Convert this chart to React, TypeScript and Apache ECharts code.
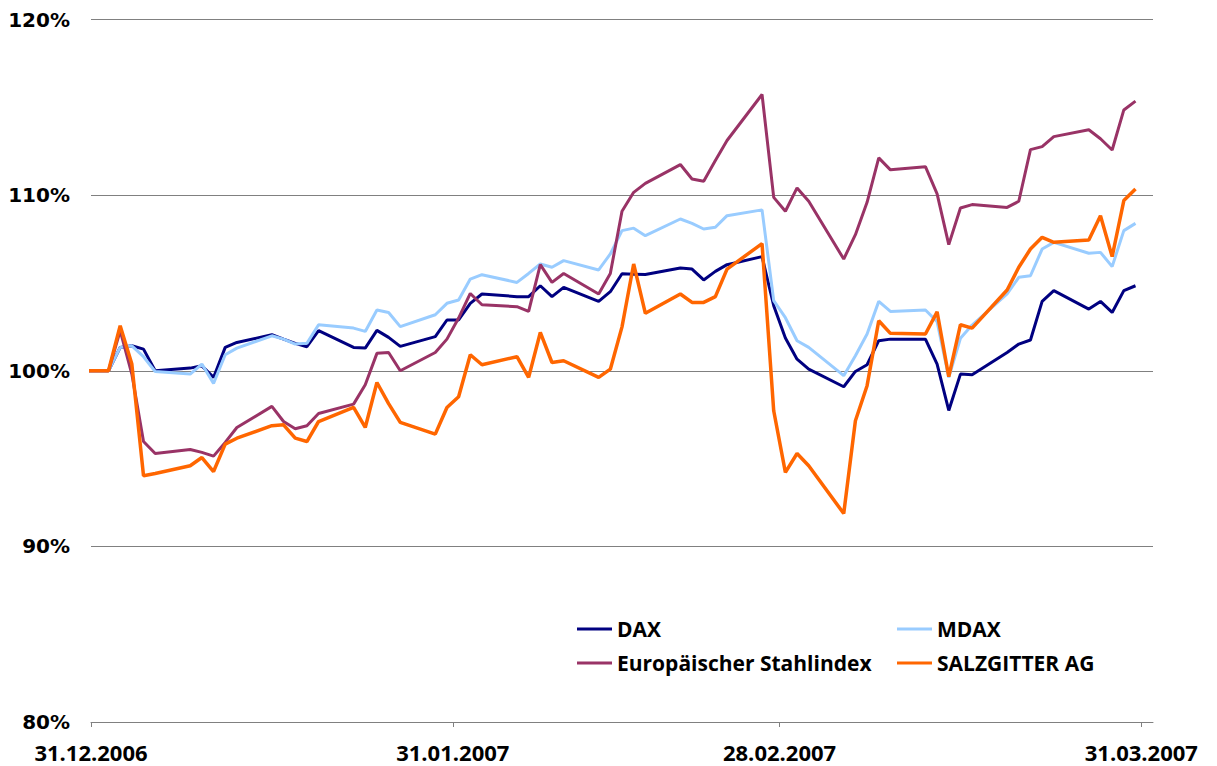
import React, { useEffect, useRef } from "react";
import * as echarts from "echarts";

// Trading dates (ISO) – the first entry only anchors the flat start at the axis edge
const dates = [
  "2006-12-29", "2007-01-01", "2007-01-02", "2007-01-03", "2007-01-04", "2007-01-05",
  "2007-01-08", "2007-01-09", "2007-01-10", "2007-01-11", "2007-01-12",
  "2007-01-15", "2007-01-16", "2007-01-17", "2007-01-18", "2007-01-19",
  "2007-01-22", "2007-01-23", "2007-01-24", "2007-01-25", "2007-01-26",
  "2007-01-29", "2007-01-30", "2007-01-31", "2007-02-01", "2007-02-02",
  "2007-02-05", "2007-02-06", "2007-02-07", "2007-02-08", "2007-02-09",
  "2007-02-12", "2007-02-13", "2007-02-14", "2007-02-15", "2007-02-16",
  "2007-02-19", "2007-02-20", "2007-02-21", "2007-02-22", "2007-02-23",
  "2007-02-26", "2007-02-27", "2007-02-28", "2007-03-01", "2007-03-02",
  "2007-03-05", "2007-03-06", "2007-03-07", "2007-03-08", "2007-03-09",
  "2007-03-12", "2007-03-13", "2007-03-14", "2007-03-15", "2007-03-16",
  "2007-03-19", "2007-03-20", "2007-03-21", "2007-03-22", "2007-03-23",
  "2007-03-26", "2007-03-27", "2007-03-28", "2007-03-29", "2007-03-30",
];

const dax = [
  100, 100, 101.33, 101.42, 101.23, 100.0,
  100.15, 100.28, 99.62, 101.33, 101.61,
  102.05, 101.8, 101.56, 101.37, 102.28,
  101.33, 101.29, 102.3, 101.9, 101.39,
  101.94, 102.89, 102.89, 103.84, 104.37,
  104.22, 104.22, 104.84, 104.22, 104.75,
  103.95, 104.5, 105.52, 105.5, 105.48,
  105.85, 105.79, 105.17, 105.66, 106.04,
  106.5, 103.7, 101.86, 100.66, 100.09,
  99.09, 99.96, 100.34, 101.71, 101.8,
  101.8, 100.38, 97.74, 99.81, 99.77,
  101.04, 101.52, 101.75, 103.95, 104.56,
  103.51, 103.95, 103.32, 104.56, 104.84,
];

const mdax = [
  100, 100, 101.33, 101.42, 100.8, 99.96,
  99.81, 100.38, 99.28, 100.91, 101.29,
  101.99, 101.8, 101.52, 101.56, 102.62,
  102.43, 102.24, 103.46, 103.32, 102.51,
  103.19, 103.84, 104.03, 105.22, 105.47,
  105.03, 105.54, 106.08, 105.89, 106.27,
  105.74, 106.65, 107.98, 108.12, 107.69,
  108.64, 108.39, 108.07, 108.17, 108.83,
  109.16, 103.99, 103.02, 101.71, 101.33,
  99.72, 100.85, 102.09, 103.95, 103.38,
  103.46, 102.8, 99.62, 101.85, 102.6,
  104.37, 105.32, 105.41, 106.93, 107.31,
  106.69, 106.74, 105.93, 107.98, 108.39,
];

const stahl = [
  100, 100, 102.28, 99.81, 95.97, 95.29,
  95.52, 95.35, 95.14, 95.92, 96.77,
  97.97, 97.11, 96.7, 96.87, 97.57,
  98.1, 99.2, 100.99, 101.04, 100.0,
  101.04, 101.8, 103.0, 104.4, 103.76,
  103.65, 103.38, 106.04, 105.03, 105.54,
  104.37, 105.54, 109.08, 110.16, 110.67,
  111.74, 110.92, 110.79, 111.97, 113.11,
  115.73, 109.87, 109.08, 110.41, 109.65,
  106.36, 107.75, 109.59, 112.12, 111.44,
  111.62, 110.07, 107.18, 109.27, 109.46,
  109.3, 109.65, 112.59, 112.76, 113.33,
  113.72, 113.21, 112.57, 114.85, 115.35,
];

const salzgitter = [
  100, 100, 102.56, 100.38, 94.02, 94.15,
  94.59, 95.06, 94.26, 95.82, 96.16,
  96.87, 96.92, 96.16, 95.97, 97.11,
  97.91, 96.77, 99.33, 98.13, 97.06,
  96.39, 97.91, 98.52, 100.91, 100.34,
  100.8, 99.62, 102.18, 100.47, 100.57,
  99.62, 100.09, 102.5, 106.08, 103.27,
  104.37, 103.89, 103.89, 104.22, 105.79,
  107.24, 97.72, 94.21, 95.29, 94.59,
  91.87, 97.15, 99.15, 102.85, 102.13,
  102.09, 103.35, 99.66, 102.62, 102.43,
  104.6, 105.89, 106.93, 107.6, 107.31,
  107.45, 108.83, 106.5, 109.69, 110.35,
];

const seriesNames = ["DAX", "MDAX", "Europäischer Stahlindex", "SALZGITTER AG"];
const seriesColors = ["#000080", "#99ccff", "#993366", "#ff6600"];
const seriesValues = [dax, mdax, stahl, salzgitter];

const axisStart = "2006-12-31";
const axisEnd = "2007-04-01";
const tickDates = ["2006-12-31", "2007-01-31", "2007-02-28", "2007-03-31"];

function ts(s: string, hour = 0): number {
  const [y, m, d] = s.split("-").map(Number);
  return Date.UTC(y, m - 1, d, hour);
}

function fmtDate(v: number): string {
  const dt = new Date(v);
  const dd = String(dt.getUTCDate()).padStart(2, "0");
  const mm = String(dt.getUTCMonth() + 1).padStart(2, "0");
  return `${dd}.${mm}.${dt.getUTCFullYear()}`;
}

export default function App() {
  const ref = useRef<HTMLDivElement>(null);

  useEffect(() => {
    if (!ref.current) return;
    const chart = echarts.init(ref.current, null, { renderer: "svg" });
    const ticks = tickDates.map((d) => ts(d));
    const legendText = {
      fontFamily: "'Open Sans', sans-serif",
      fontWeight: "bold" as const,
      fontSize: 21,
      color: "#000",
      lineHeight: 22,
    };
    chart.setOption({
      animation: false,
      backgroundColor: "#fff",
      grid: { left: 91, right: 64, top: 19.5, bottom: 44, containLabel: false },
      legend: [
        {
          data: [seriesNames[0], seriesNames[2]],
          orient: "vertical",
          left: 572,
          top: 613,
          icon: "rect",
          itemWidth: 35,
          itemHeight: 3,
          itemGap: 12,
          textStyle: legendText,
          selectedMode: false,
        },
        {
          data: [seriesNames[1], seriesNames[3]],
          orient: "vertical",
          left: 892,
          top: 613,
          icon: "rect",
          itemWidth: 35,
          itemHeight: 3,
          itemGap: 12,
          textStyle: legendText,
          selectedMode: false,
        },
      ],
      xAxis: {
        type: "value",
        min: ts(axisStart),
        max: ts(axisEnd),
        axisLine: { show: true, lineStyle: { color: "#808080", width: 1 } },
        axisTick: {
          show: true,
          customValues: ticks,
          length: 5,
          lineStyle: { color: "#808080" },
        },
        axisLabel: {
          customValues: ticks,
          formatter: (v: number) => fmtDate(v),
          margin: 21,
          fontFamily: "'Open Sans', sans-serif",
          fontWeight: "bold",
          fontSize: 22,
          lineHeight: 18,
          color: "#000",
        },
        splitLine: { show: false },
      },
      yAxis: {
        type: "value",
        min: 80,
        max: 120,
        interval: 10,
        axisLine: { show: false },
        axisTick: { show: false },
        axisLabel: {
          formatter: "{value}%",
          margin: 21,
          fontFamily: "'DejaVu Sans', sans-serif",
          fontWeight: "bold",
          fontSize: 20,
          color: "#000",
        },
        splitLine: { show: true, lineStyle: { color: "#808080", width: 1 } },
      },
      series: seriesNames.map((name, k) => ({
        name,
        type: "line",
        symbol: "none",
        showSymbol: false,
        clip: true,
        color: seriesColors[k],
        lineStyle: { color: seriesColors[k], width: k === 3 ? 3.5 : 3 },
        data: dates.map((d, i) => [ts(d, 12), seriesValues[k][i]]),
      })),
    });
    return () => chart.dispose();
  }, []);

  return (
    <div
      ref={ref}
      style={{ position: "fixed", left: 0, top: 0, width: 1217, height: 766, background: "#fff" }}
    />
  );
}
